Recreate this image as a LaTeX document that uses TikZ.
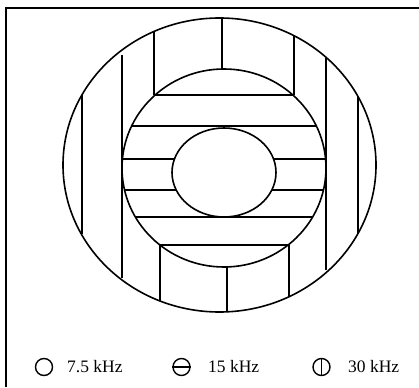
\documentclass[tikz,border=0pt]{standalone}
\usepackage{fontspec}
\setmainfont{Liberation Serif}
\usepackage{tikz}
\usetikzlibrary{positioning}

\tikzset{
  frameline/.style={line width=2.4pt},
  ringline/.style={line width=1.6pt},
  hatchline/.style={line width=1.3pt},
  keysym/.style={circle, draw, line width=1.4pt, minimum size=17pt, inner sep=0pt},
  keytext/.style={anchor=west, inner sep=0pt, font=\fontsize{17.5}{19}\selectfont}
}

\begin{document}
\begin{tikzpicture}[x=1pt, y=-1pt]
    \useasboundingbox (0,0) rectangle (419,387);

    % frame
    \draw[frameline] (6,387) -- (6,8) -- (419,8);

    % rings
    \draw[ringline] (219.5,165) ellipse [x radius=156.5, y radius=147];
    \draw[ringline] (224,168) ellipse [x radius=102, y radius=99];
    \draw[ringline] (224,172.5) ellipse [x radius=52, y radius=44.5];

    % 15 kHz zone
    \draw[hatchline] (155,95) -- (293,95);
    \draw[hatchline] (132,126) -- (316,126);
    \draw[hatchline] (122.5,159) -- (174.5,159);
    \draw[hatchline] (273.5,159) -- (325.5,159);
    \draw[hatchline] (124.5,190) -- (176,190);
    \draw[hatchline] (272,190) -- (323.5,190);
    \draw[hatchline] (135,217) -- (313,217);
    \draw[hatchline] (160,245) -- (288,245);

    % 30 kHz zone
    \draw[hatchline] (222,18.5) -- (222,69);
    \draw[hatchline] (154,32) -- (154,95);
    \draw[hatchline] (294,36.5) -- (294,95);
    \draw[hatchline] (122,55) -- (122,278);
    \draw[hatchline] (326,58) -- (326,270);
    \draw[hatchline] (82,95.5) -- (82,234);
    \draw[hatchline] (358,97) -- (358,233);
    \draw[hatchline] (160,245) -- (160,301);
    \draw[hatchline] (289,245) -- (289,297);
    \draw[hatchline] (227,267) -- (227,312);

    % key
    \node[keysym] (slow) at (44,367) {};
    \node[keytext] (slowlbl) at (67,367) {7.5 kHz};
    \node[keysym] (mid) at (181.5,367) {};
    \draw[line width=1.4pt] (mid.west) -- (mid.east);
    \node[keytext] (midlbl) at (208,367) {15 kHz};
    \node[keysym] (fast) at (321.5,367) {};
    \draw[line width=1.4pt] (fast.north) -- (fast.south);
    \node[keytext] (fastlbl) at (348,367) {30 kHz};
\end{tikzpicture}
\end{document}
